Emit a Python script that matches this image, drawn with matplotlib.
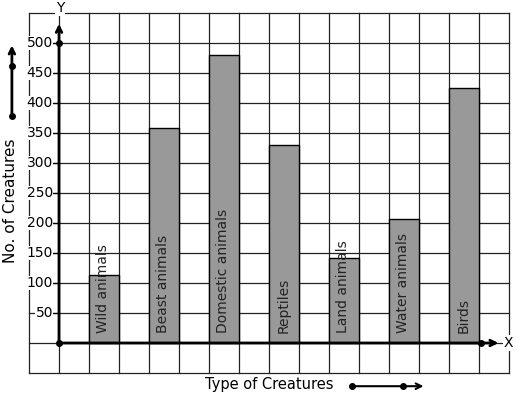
import matplotlib
matplotlib.use('Agg')
import matplotlib.pyplot as plt
import numpy as np

# data
categories = ['Wild animals', 'Beast animals', 'Domestic animals', 'Reptiles',
              'Land animals', 'Water animals', 'Birds']
counts = [113, 358, 480, 330, 142, 207, 425]
bar_left = [1, 3, 5, 7, 9, 11, 13]   # grid column where each bar starts
y_ticks = [50, 100, 150, 200, 250, 300, 350, 400, 450, 500]

fig = plt.figure(figsize=(5.17, 3.99), dpi=100)
ax = fig.add_axes([0, 0, 1, 1])
ax.set_xlim(-59 / 30, (517 - 59) / 30)
ax.set_ylim(-56 / 0.6, 343 / 0.6)
ax.axis('off')

# graph paper grid
for gx in range(-1, 16):
    ax.plot([gx, gx], [-50, 550], color='#222222', lw=0.9, zorder=1)
for gy in range(-50, 551, 50):
    ax.plot([-1, 15], [gy, gy], color='#222222', lw=0.9, zorder=1)

# bars
ax.bar(bar_left, counts, width=1, align='edge', color='#999999',
       edgecolor='black', lw=1, zorder=2)
for x0, name in zip(bar_left, categories):
    ax.text(x0 + 0.48, 16, name, rotation=90, ha='center', va='bottom',
            fontsize=10, color='#222222', zorder=4)

# axes with arrows
ax.annotate('', xy=(0, 532), xytext=(0, 0),
            arrowprops=dict(arrowstyle='->', lw=2, color='black',
                            shrinkA=0, shrinkB=0), zorder=5)
ax.annotate('', xy=(14.65, 0), xytext=(0, 0),
            arrowprops=dict(arrowstyle='->', lw=2, color='black',
                            shrinkA=0, shrinkB=0), zorder=5)
ax.plot([0, 0, 14.05], [0, 500, 0], 'o', color='black', ms=4, zorder=6)

ax.text(0.03, 558, 'Y', ha='center', va='center', fontsize=10,
        bbox=dict(facecolor='white', edgecolor='none', pad=0.5), zorder=6)
ax.text(14.97, 0, 'X', ha='center', va='center', fontsize=10,
        bbox=dict(facecolor='white', edgecolor='none', pad=0.5), zorder=6)

# tick labels
for t in y_ticks:
    ax.plot([-0.22, 0], [t, t], color='black', lw=0.9, zorder=3)
    ax.text(-0.2, t, str(t), ha='right', va='center', fontsize=10,
            bbox=dict(facecolor='white', edgecolor='none', pad=0.3), zorder=4)

# axis titles with little arrows
ax.text(-1.63, 237, 'No. of Creatures', rotation=90, ha='center', va='center',
        fontsize=11, bbox=dict(facecolor='white', edgecolor='none', pad=1))
ax.annotate('', xy=(-1.57, 496), xytext=(-1.57, 378),
            arrowprops=dict(arrowstyle='->', lw=2, color='black',
                            shrinkA=0, shrinkB=0), zorder=5)
ax.plot([-1.57, -1.57], [378, 462], 'o', color='black', ms=4, zorder=6)

ax.text(7.0, -70, 'Type of Creatures', ha='center', va='center', fontsize=10.5)
ax.annotate('', xy=(12.15, -72), xytext=(9.77, -72),
            arrowprops=dict(arrowstyle='->', lw=1.5, color='black',
                            shrinkA=0, shrinkB=0), zorder=5)
ax.plot([9.77, 11.47], [-72, -72], 'o', color='black', ms=4, zorder=6)

fig.savefig('out.png', dpi=100, facecolor='white')
